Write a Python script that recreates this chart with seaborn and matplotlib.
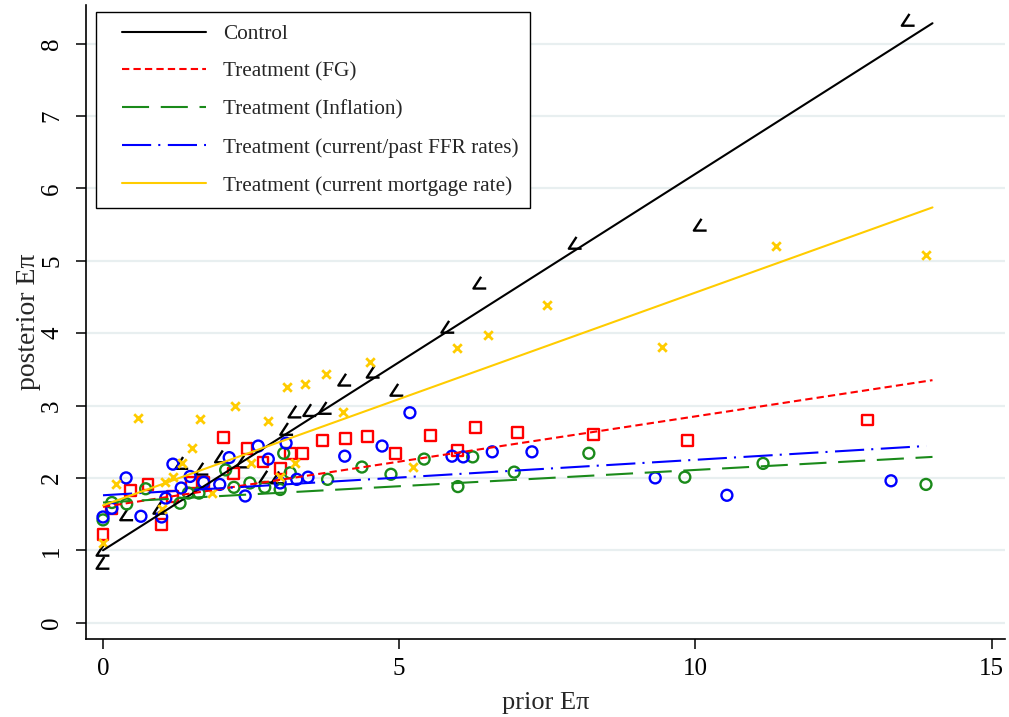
import numpy as np
import pandas as pd
import matplotlib
matplotlib.use("Agg")
import matplotlib.pyplot as plt
import seaborn as sns
from matplotlib.path import Path
from matplotlib.lines import Line2D
from matplotlib.legend_handler import HandlerLine2D

# ---------------- data ----------------
series_names = ["Control", "Treatment (FG)", "Treatment (Inflation)",
                "Treatment (current/past FFR rates)", "Treatment (current mortgage rate)"]

control_x = [0.0, 0.0, 0.40, 0.96, 1.33, 1.67, 2.00, 2.36, 2.75, 2.95, 3.10, 3.24, 3.49, 3.75,
             4.08, 4.56, 4.96, 5.82, 6.36, 7.97, 10.08, 13.59]
control_y = [1.00, 0.82, 1.49, 1.58, 2.20, 2.12, 2.29, 2.22, 2.01, 2.00, 2.67, 2.91, 2.93, 2.96,
             3.35, 3.46, 3.21, 4.08, 4.69, 5.24, 5.49, 8.32]

fg_x = [0.0, 0.15, 0.46, 0.76, 0.99, 1.18, 1.50, 1.69, 2.04, 2.20, 2.43, 2.70, 2.99, 3.16, 3.37,
        3.71, 4.10, 4.46, 4.93, 5.52, 5.99, 6.28, 6.99, 8.28, 9.86, 12.91]
fg_y = [1.22, 1.58, 1.83, 1.91, 1.36, 1.74, 1.94, 1.93, 2.56, 2.06, 2.41, 2.22, 2.13, 2.34, 2.34,
        2.52, 2.55, 2.57, 2.34, 2.59, 2.38, 2.69, 2.63, 2.60, 2.52, 2.80]

infl_x = [0.0, 0.15, 0.40, 0.72, 1.30, 1.44, 1.62, 2.07, 2.21, 2.48, 2.73, 2.99, 3.05, 3.16,
          3.79, 4.37, 4.86, 5.42, 5.99, 6.24, 6.94, 8.20, 9.82, 11.14, 13.89]
infl_y = [1.42, 1.66, 1.64, 1.85, 1.65, 1.79, 1.79, 2.11, 1.87, 1.93, 1.87, 1.84, 2.34, 2.07,
          1.98, 2.15, 2.05, 2.26, 1.88, 2.29, 2.08, 2.34, 2.01, 2.20, 1.91]

ffr_x = [0.0, 0.15, 0.39, 0.64, 0.99, 1.06, 1.18, 1.32, 1.47, 1.70, 1.97, 2.13, 2.40, 2.62,
         2.79, 2.99, 3.09, 3.27, 3.46, 4.08, 4.71, 5.18, 5.89, 6.08, 6.57, 7.24, 9.32, 10.53, 13.30]
ffr_y = [1.46, 1.58, 2.00, 1.47, 1.46, 1.72, 2.19, 1.86, 2.02, 1.94, 1.91, 2.28, 1.75, 2.44,
         2.26, 1.93, 2.48, 1.98, 2.01, 2.30, 2.44, 2.90, 2.30, 2.29, 2.36, 2.36, 2.00, 1.76, 1.96]

mort_x = [0.0, 0.22, 0.59, 0.99, 1.05, 1.18, 1.33, 1.50, 1.64, 1.84, 2.23, 2.50, 2.78, 2.99,
          3.10, 3.24, 3.41, 3.76, 4.05, 4.50, 5.23, 5.97, 6.50, 7.49, 9.43, 11.36, 13.89]
mort_y = [1.10, 1.91, 2.83, 1.57, 1.95, 2.01, 2.20, 2.41, 2.81, 1.79, 3.00, 2.20, 2.79, 2.01,
          3.25, 2.20, 3.30, 3.43, 2.91, 3.60, 2.15, 3.80, 3.97, 4.39, 3.81, 5.20, 5.08]

# linear fits as drawn in the reference
fit_intercept = [1.00, 1.60, 1.66, 1.76, 1.62]
fit_slope = [0.52, 0.125, 0.045, 0.049, 0.294]
fit_xmax = [14.0, 14.0, 14.0, 13.9, 14.0]

x_ticks = [0, 5, 10, 15]
y_ticks = [0, 1, 2, 3, 4, 5, 6, 7, 8]
x_label = "prior E\u03c0"
y_label = "posterior E\u03c0"

# ---------------- styling ----------------
sns.set_style("white")
plt.rcParams["font.family"] = ["Liberation Serif", "DejaVu Serif"]

colors = ["#000000", "#ff0000", "#1a8a1a", "#0000ff", "#ffcc00"]
angle_marker = Path([(0.1, 0.5), (-0.5, -0.42), (0.5, -0.42)],
                    [Path.MOVETO, Path.LINETO, Path.LINETO])
markers = [angle_marker, "s", "o", "o", "x"]
sizes = [85, 62, 62, 62, 38]
mlws = [1.7, 1.7, 1.7, 1.7, 2.0]
fit_lw = 1.5
linestyles = ["-", (0, (3.5, 2.0)), (0, (13, 5.6)), (0, (14, 3.4, 1.0, 3.6)), "-"]

xs = [control_x, fg_x, infl_x, ffr_x, mort_x]
ys = [control_y, fg_y, infl_y, ffr_y, mort_y]
frames = []
for name, x, y in zip(series_names, xs, ys):
    frames.append(pd.DataFrame({"prior": x, "posterior": y, "group": name}))
df = pd.concat(frames, ignore_index=True)

fig = plt.figure(figsize=(10.09, 7.17), dpi=100)
ax = fig.add_axes([86 / 1009, 78 / 717, (1005 - 86) / 1009, (639 - 5) / 717])

for ycoord in y_ticks:
    ax.axhline(ycoord, color="#e8eff0", lw=1.6, zorder=0)

for i, name in enumerate(series_names):
    sub = df[df["group"] == name]
    if markers[i] == "x":
        sns.scatterplot(data=sub, x="prior", y="posterior", marker="x", s=sizes[i],
                        color=colors[i], linewidth=mlws[i], ax=ax, zorder=3, legend=False)
    else:
        sns.scatterplot(data=sub, x="prior", y="posterior", marker=markers[i], s=sizes[i],
                        facecolors="none", edgecolor=colors[i], linewidth=mlws[i],
                        ax=ax, zorder=3, legend=False)

handles = []
for i, name in enumerate(series_names):
    xf = np.array([0.0, fit_xmax[i]])
    yf = fit_intercept[i] + fit_slope[i] * xf
    ax.plot(xf, yf, color=colors[i], lw=fit_lw, linestyle=linestyles[i], zorder=4)
    handles.append(Line2D([0], [0], color=colors[i], lw=fit_lw, linestyle=linestyles[i]))

ax.set_xlim((86 - 103) / 59.25, (1005 - 103) / 59.25)
ax.set_ylim((622.7 - 639) / 72.4, (622.7 - 5) / 72.4)
ax.set_xticks(x_ticks)
ax.set_yticks(y_ticks)
ax.set_xlabel(x_label, fontsize=19, labelpad=9)
ax.set_ylabel(y_label, fontsize=20, labelpad=0)
ax.tick_params(axis="both", direction="out", length=7.5, width=1.1, labelsize=18,
               colors="black", bottom=True, left=True)
ax.tick_params(axis="x", pad=6)
ax.tick_params(axis="y", labelrotation=90, pad=9)
for lbl in ax.get_yticklabels():
    lbl.set_va("center")

for s in ["top", "right"]:
    ax.spines[s].set_visible(False)
for s in ["left", "bottom"]:
    ax.spines[s].set_color("black")
    ax.spines[s].set_linewidth(1.2)

leg = ax.legend(handles, series_names, loc="upper left",
                bbox_to_anchor=((96 - 86) / 919, (639 - 12) / 634), borderaxespad=0,
                fontsize=15.3, handlelength=4.6, handletextpad=0.8, labelspacing=0.85,
                borderpad=0.57, frameon=True, fancybox=False, framealpha=1,
                handler_map={Line2D: HandlerLine2D(xpad=0.66)})
leg.get_frame().set_edgecolor("black")
leg.get_frame().set_linewidth(1.0)

fig.savefig("out.png", dpi=100)
